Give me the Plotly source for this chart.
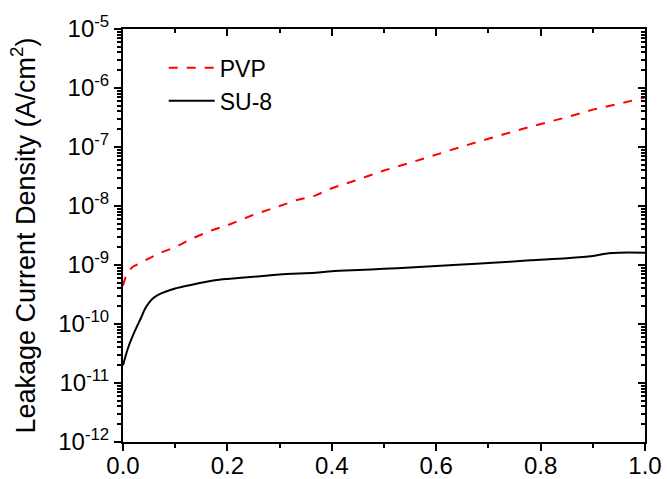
import plotly.graph_objects as go

pvp_x = [0, 0.005, 0.01, 0.02, 0.035, 0.05, 0.075, 0.1, 0.13, 0.167, 0.2, 0.25, 0.3, 0.333,
         0.368, 0.4, 0.45, 0.5, 0.55, 0.588, 0.6, 0.65, 0.7, 0.78, 0.85, 0.9, 0.95, 0.985, 1.0]
pvp_y = [4.5e-10, 6.3e-10, 7.9e-10, 9.5e-10, 1.1e-9, 1.3e-9, 1.65e-9, 2.0e-9, 2.75e-9, 3.8e-9,
         4.7e-9, 7.1e-9, 1.0e-8, 1.26e-8, 1.5e-8, 2.0e-8, 2.8e-8, 4.0e-8, 5.4e-8, 6.9e-8,
         7.6e-8, 1.02e-7, 1.38e-7, 2.2e-7, 3.2e-7, 4.3e-7, 5.4e-7, 6.5e-7, 6.9e-7]

su8_x = [0, 0.01, 0.023, 0.035, 0.042, 0.05, 0.056, 0.07, 0.1, 0.13, 0.176, 0.2, 0.25, 0.3,
         0.368, 0.4, 0.45, 0.5, 0.55, 0.6, 0.65, 0.7, 0.78, 0.85, 0.9, 0.93, 0.95, 1.0]
su8_y = [2.0e-11, 4.0e-11, 7.7e-11, 1.3e-10, 1.8e-10, 2.3e-10, 2.65e-10, 3.2e-10, 4.0e-10,
         4.6e-10, 5.5e-10, 5.8e-10, 6.3e-10, 6.9e-10, 7.4e-10, 7.8e-10, 8.2e-10, 8.6e-10,
         9.1e-10, 9.6e-10, 1.02e-9, 1.08e-9, 1.2e-9, 1.3e-9, 1.42e-9, 1.58e-9, 1.62e-9, 1.62e-9]

x_ticks = [0.0, 0.2, 0.4, 0.6, 0.8, 1.0]
x_ticklabels = ["0.0", "0.2", "0.4", "0.6", "0.8", "1.0"]
y_ticks = [1e-12, 1e-11, 1e-10, 1e-9, 1e-8, 1e-7, 1e-6, 1e-5]
y_ticklabels = ["10<sup>-12</sup>", "10<sup>-11</sup>", "10<sup>-10</sup>", "10<sup>-9</sup>",
                "10<sup>-8</sup>", "10<sup>-7</sup>", "10<sup>-6</sup>", "10<sup>-5</sup>"]

FONT = "Liberation Sans, Arial, sans-serif"

fig = go.Figure()
fig.add_trace(go.Scatter(x=pvp_x, y=pvp_y, mode="lines", name="PVP",
                         line=dict(color="#ff0000", width=2, dash="dash")))
fig.add_trace(go.Scatter(x=su8_x, y=su8_y, mode="lines", name="SU-8",
                         line=dict(color="#000000", width=2, shape="spline", smoothing=0.8)))
# helper trace for mirrored inside ticks
fig.add_trace(go.Scatter(x=[0, 1], y=[1e-12, 1e-5], xaxis="x2", yaxis="y2", mode="lines",
                         line=dict(width=0), showlegend=False, hoverinfo="skip", opacity=0))

fig.update_layout(
    width=667, height=479,
    margin=dict(l=123, r=22, t=29, b=37),
    paper_bgcolor="white", plot_bgcolor="white",
    font=dict(family=FONT, size=24, color="black"),
    showlegend=True,
    legend=dict(x=0.078, y=0.958, xanchor="left", yanchor="top", bgcolor="rgba(0,0,0,0)",
                font=dict(size=23), tracegroupgap=0, itemwidth=46),
    xaxis=dict(range=[0, 1], tickvals=x_ticks, ticktext=x_ticklabels, automargin=False,
               showline=True, linecolor="black", linewidth=2, mirror=True,
               ticks="outside", ticklen=7, tickwidth=2, tickcolor="black",
               ticklabelstandoff=-6,
               minor=dict(ticks="outside", dtick=0.1, ticklen=4, tickwidth=2, tickcolor="black"),
               showgrid=False, zeroline=False, tickfont=dict(size=24)),
    yaxis=dict(type="log", range=[-12, -5], tickvals=y_ticks, ticktext=y_ticklabels,
               automargin=False,
               showline=True, linecolor="black", linewidth=2, mirror=True,
               ticks="outside", ticklen=7, tickwidth=2, tickcolor="black",
               minor=dict(ticks="outside", ticklen=4, tickwidth=1.5, tickcolor="black", dtick="D1"),
               showgrid=False, zeroline=False, tickfont=dict(size=24),
               title=dict(text="Leakage Current Density (A/cm<sup>2</sup>)", font=dict(size=27),
                          standoff=15)),
    xaxis2=dict(overlaying="x", side="top", range=[0, 1], tickvals=x_ticks, showticklabels=False,
                ticks="inside", ticklen=7, tickwidth=2, tickcolor="black", automargin=False,
                minor=dict(ticks="inside", dtick=0.1, ticklen=4, tickwidth=2, tickcolor="black"),
                showgrid=False, zeroline=False, showline=False, anchor="y"),
    yaxis2=dict(overlaying="y", side="right", type="log", range=[-12, -5], tickvals=y_ticks,
                showticklabels=False, ticks="inside", ticklen=7, tickwidth=2, tickcolor="black",
                automargin=False,
                minor=dict(ticks="inside", ticklen=4, tickwidth=1.5, tickcolor="black", dtick="D1"),
                showgrid=False, zeroline=False, showline=False, anchor="x"),
)

fig.write_html("out.html")
